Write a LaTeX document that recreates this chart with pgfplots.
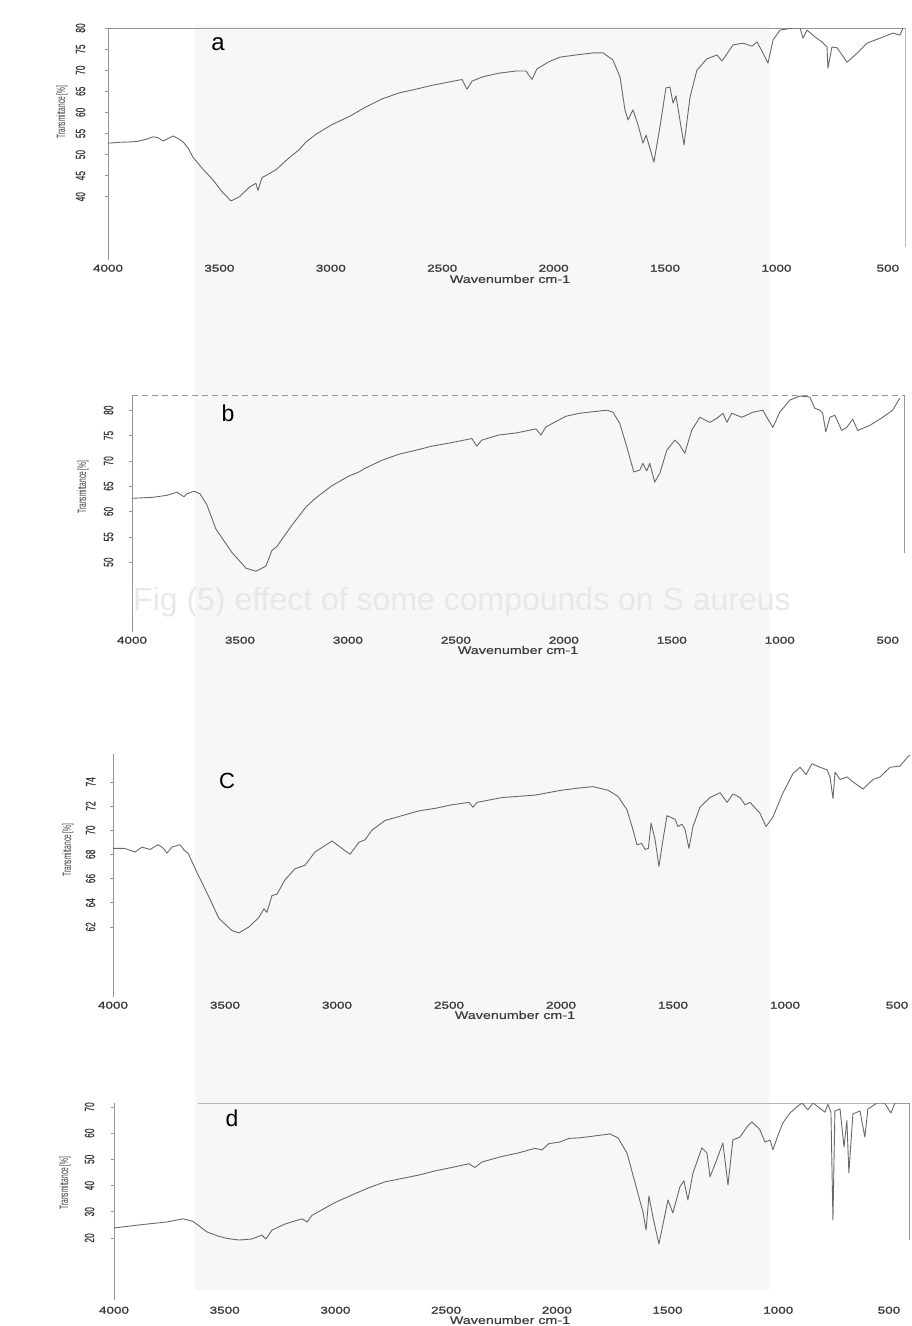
\documentclass[border=0pt]{standalone}
\usepackage{pgfplots}
\pgfplotsset{compat=1.18}
\usepackage{fontspec}
\setmainfont{Liberation Sans}
\newfontfamily\xtickfont[FakeStretch=1.35,FakeBold=1.6]{Liberation Sans}
\newfontfamily\ytickfont[FakeStretch=0.62,FakeBold=0.6]{Liberation Sans}
\newfontfamily\ylabfont[FakeStretch=0.55]{Liberation Sans}
\newfontfamily\xlabfont[FakeStretch=1.3,FakeBold=0.5]{Liberation Sans}
\definecolor{linegray}{RGB}{105,105,105}
\definecolor{axgray}{RGB}{150,150,150}
\definecolor{txtgray}{RGB}{60,60,60}
\pgfplotsset{
  spec/.style={linegray, line width=0.9pt, line join=round, mark=none},
  irax/.style={
    scale only axis, x dir=reverse,
    axis y line*=left, axis x line*=bottom,
    x axis line style={draw=none},
    y axis line style={draw=axgray, line width=0.7pt, -},
    xtick={4000,3500,3000,2500,2000,1500,1000,500},
    x tick style={draw=none},
    y tick style={draw=axgray, line width=0.6pt},
    major tick length=3pt, tick align=outside,
    /pgf/number format/assume math mode=true,
    /pgf/number format/1000 sep={},
    xticklabel style={font=\xtickfont\fontsize{10}{10}\selectfont, text=txtgray, inner sep=0pt, anchor=north},
    yticklabel style={font=\ytickfont\fontsize{13.5}{13.5}\selectfont, text=txtgray, rotate=90, anchor=south, inner sep=0pt},
  }
}
\begin{document}
\begin{tikzpicture}[x=1pt,y=1pt]
\useasboundingbox (0pt,0pt) rectangle (912pt,-1326pt);
\fill[black!3] (195pt,-25pt) rectangle (770pt,-1290pt);
\node[text=black!9, font=\fontsize{32}{32}\selectfont] at (462pt,-602pt) {Fig (5) effect of some compounds on S aureus};

% ---------- a ----------
\begin{axis}[irax, at={(108pt,-260pt)}, anchor=south west,
  width=797.7pt, height=232pt, xmin=420, xmax=4000, ymin=25, ymax=80,
  ytick={40,45,50,55,60,65,70,75,80}, xticklabel shift=1.5pt, yticklabel shift=19.5pt]
\draw[axgray, line width=0.6pt] (rel axis cs:0,1) -- (rel axis cs:1,1);
\addplot[axgray, line width=0.7pt] coordinates {(421,80) (421,28.1)};
\addplot[spec] coordinates {
(4000,52.7) (3950,52.9) (3900,53.0) (3870,53.1) (3830,53.6) (3798,54.2) (3775,54.0)
(3753,53.2) (3730,53.8) (3708,54.4) (3685,53.8) (3663,53.0) (3640,51.5) (3619,49.4)
(3575,46.6) (3529,44.0) (3490,41.3) (3448,39.0) (3410,40.0) (3367,42.2) (3336,43.2)
(3327,41.5) (3309,44.5) (3246,46.4) (3188,49.2) (3143,51.1) (3111,53.0) (3067,54.8)
(2995,57.1) (2918,59.0) (2842,61.3) (2770,63.2) (2694,64.6) (2618,65.5) (2546,66.4)
(2470,67.2) (2411,67.8) (2389,65.5) (2366,67.4) (2321,68.4) (2245,69.3) (2169,69.8)
(2124,69.8) (2097,67.8) (2075,70.3) (2021,72.0) (1971,73.1) (1900,73.6) (1823,74.1)
(1778,74.1) (1734,72.4) (1702,68.4) (1680,60.6) (1666,58.2) (1644,60.6) (1621,57.0)
(1599,52.7) (1585,54.6) (1550,48.2) (1523,56.5) (1496,65.8) (1478,66.0) (1464,62.2)
(1451,63.9) (1415,52.3) (1388,63.6) (1357,70.0) (1312,72.7) (1267,73.6) (1244,72.2)
(1195,76.0) (1150,76.4) (1110,75.7) (1087,76.7) (1060,74.0) (1038,71.7) (1015,77.2)
(984,79.5) (926,80.0) (894,80.0) (881,77.6) (863,79.5) (827,77.9) (796,76.7)
(773,75.5) (769,70.5) (751,75.5) (728,75.3) (683,71.9) (639,74.0) (594,76.4)
(535,77.6) (477,78.8) (446,78.3) (432,80.0)
};
\end{axis}

% ---------- b ----------
\begin{axis}[irax, at={(132pt,-632pt)}, anchor=south west,
  width=773pt, height=237pt, xmin=420, xmax=4000, ymin=36.2, ymax=83,
  ytick={50,55,60,65,70,75,80}, xticklabel shift=1.5pt, yticklabel shift=15.5pt]
\draw[axgray, line width=0.6pt, dash pattern=on 6pt off 4pt] (rel axis cs:0,1) -- (rel axis cs:1,1);
\addplot[axgray, line width=0.7pt] coordinates {(421,83) (421,51.8)};
\addplot[spec] coordinates {
(4000,62.6) (3903,62.8) (3838,63.2) (3792,63.8) (3759,62.9) (3745,63.5) (3713,64.0)
(3685,63.5) (3653,61.3) (3611,56.5) (3537,51.9) (3472,48.8) (3426,48.2) (3380,49.2)
(3352,52.3) (3329,53.1) (3259,57.3) (3194,60.9) (3148,62.7) (3074,65.1) (2995,67.0)
(2949,67.8) (2917,68.6) (2843,70.1) (2764,71.3) (2685,72.1) (2611,72.9) (2532,73.5)
(2426,74.4) (2403,72.9) (2380,74.1) (2301,75.1) (2222,75.5) (2129,76.3) (2106,75.1)
(2083,76.7) (1991,78.8) (1926,79.4) (1801,80.0) (1773,79.6) (1741,77.4) (1708,72.7)
(1676,67.8) (1648,68.2) (1634,69.5) (1616,68.0) (1602,69.5) (1579,65.8) (1555,67.6)
(1523,72.1) (1486,74.1) (1463,73.1) (1440,71.5) (1407,76.1) (1370,78.6) (1324,77.6)
(1291,78.4) (1263,79.4) (1245,77.6) (1222,79.4) (1176,78.6) (1125,79.6) (1078,80.0)
(1060,78.6) (1032,76.6) (1000,79.6) (953,82.0) (907,82.8) (861,82.6) (838,80.4)
(815,80.0) (801,79.4) (787,75.7) (768,78.6) (745,79.0) (713,76.0) (690,76.6)
(662,78.2) (639,76.0) (583,77.0) (523,78.6) (477,80.0) (444,82.4)
};
\end{axis}

% ---------- c ----------
\begin{axis}[irax, at={(113pt,-997pt)}, anchor=south west,
  width=797.5pt, height=243pt, xmin=440, xmax=4000, ymin=56.2, ymax=76.3,
  ytick={62,64,66,68,70,72,74}, xticklabel shift=1.5pt, yticklabel shift=14.5pt]
\addplot[spec] coordinates {
(4000,68.5) (3950,68.5) (3902,68.2) (3870,68.6) (3835,68.4) (3799,68.8) (3775,68.5)
(3759,68.1) (3737,68.6) (3701,68.8) (3680,68.3) (3665,68.1) (3625,66.5) (3580,64.8)
(3527,62.7) (3469,61.7) (3438,61.5) (3393,62.0) (3348,62.8) (3326,63.5) (3313,63.2)
(3290,64.6) (3268,64.7) (3232,65.9) (3188,66.8) (3143,67.1) (3098,68.2) (3022,69.1)
(3000,68.8) (2942,68.0) (2902,69.0) (2875,69.2) (2844,70.0) (2786,70.8) (2710,71.2)
(2634,71.6) (2563,71.8) (2487,72.1) (2411,72.3) (2393,71.9) (2375,72.3) (2263,72.7)
(2116,72.9) (2000,73.3) (1915,73.5) (1857,73.6) (1790,73.3) (1746,72.8) (1706,71.7)
(1683,70.3) (1661,68.8) (1640,68.9) (1625,68.4) (1610,68.5) (1598,70.6) (1580,69.2)
(1563,67.0) (1545,69.2) (1527,71.2) (1491,70.9) (1478,70.3) (1460,70.5) (1447,70.1)
(1429,68.5) (1411,70.3) (1380,71.9) (1335,72.7) (1290,73.1) (1259,72.3) (1232,73.0)
(1201,72.7) (1179,72.1) (1156,72.3) (1112,71.4) (1085,70.3) (1054,71.1) (1009,73.1)
(964,74.7) (933,75.2) (906,74.6) (880,75.5) (844,75.2) (813,75.0) (799,74.4)
(786,72.6) (777,74.8) (755,74.2) (723,74.4) (697,74.0) (652,73.4) (607,74.2)
(576,74.4) (532,75.2) (487,75.3) (473,75.6) (451,76.1) (441,76.2)
};
\end{axis}

% ---------- d ----------
\begin{axis}[irax, at={(114pt,-1300pt)}, anchor=south west,
  width=796pt, height=197pt, xmin=405, xmax=4000, ymin=-3.7, ymax=71.5,
  ytick={20,30,40,50,60,70}, xticklabel shift=3.5pt, yticklabel shift=16.5pt]
\draw[axgray!70, line width=0.6pt] (axis cs:3620,71.5) -- (rel axis cs:1,1);
\addplot[axgray, line width=0.7pt] coordinates {(406,71.5) (406,19.2)};
\addplot[spec] coordinates {
(4000,23.8) (3883,25.0) (3761,26.1) (3688,27.3) (3643,26.3) (3580,22.3) (3526,20.6)
(3490,19.8) (3435,19.2) (3377,19.6) (3332,21.1) (3314,19.6) (3286,23.0) (3228,25.3)
(3151,27.3) (3128,26.1) (3106,28.6) (3002,33.5) (2925,36.4) (2848,39.2) (2776,41.4)
(2699,42.7) (2623,44.0) (2550,45.6) (2474,46.9) (2397,48.3) (2370,46.9) (2338,49.0)
(2248,51.1) (2171,52.5) (2099,54.2) (2067,53.6) (2036,56.0) (1986,56.6) (1945,58.0)
(1896,58.2) (1760,59.7) (1724,58.2) (1683,52.4) (1638,38.3) (1611,29.9) (1597,23.0)
(1584,36.0) (1566,28.0) (1539,17.7) (1521,25.0) (1498,34.5) (1476,29.5) (1444,39.5)
(1426,41.8) (1408,34.5) (1385,44.8) (1345,54.4) (1322,52.4) (1308,43.3) (1277,50.0)
(1250,56.3) (1227,40.2) (1205,57.4) (1173,58.5) (1141,62.4) (1119,64.3) (1096,62.4)
(1083,61.3) (1060,56.6) (1037,57.4) (1024,53.6) (1001,59.3) (979,63.9) (947,67.7)
(916,70.0) (893,71.5) (866,68.9) (843,71.5) (789,68.0) (776,71.0) (762,68.0)
(753,26.9) (744,68.5) (721,69.2) (703,54.7) (690,64.8) (681,44.8) (663,67.3)
(631,68.5) (609,58.5) (595,69.2) (554,71.5) (520,71.5) (491,67.7) (473,71.5) (406,71.5)
};
\end{axis}

% ---------- labels ----------
\begin{scope}[every node/.style={text=txtgray}]
\node[font=\xlabfont\fontsize{11}{11}\selectfont] at (510pt,-279pt) {Wavenumber cm-1};
\node[font=\xlabfont\fontsize{11}{11}\selectfont] at (518pt,-650pt) {Wavenumber cm-1};
\node[font=\xlabfont\fontsize{11}{11}\selectfont] at (515pt,-1015pt) {Wavenumber cm-1};
\node[font=\xlabfont\fontsize{11}{11}\selectfont] at (510pt,-1320pt) {Wavenumber cm-1};
\node[font=\ylabfont\fontsize{12}{12}\selectfont, rotate=90] at (62pt,-112pt) {Transmittance [\%]};
\node[font=\ylabfont\fontsize{12}{12}\selectfont, rotate=90] at (83pt,-487pt) {Transmittance [\%]};
\node[font=\ylabfont\fontsize{12}{12}\selectfont, rotate=90] at (68pt,-850pt) {Transmittance [\%]};
\node[font=\ylabfont\fontsize{12}{12}\selectfont, rotate=90] at (65pt,-1183pt) {Transmittance [\%]};
\end{scope}
\node[text=black, font=\fontsize{24}{24}\selectfont] at (218pt,-44pt) {a};
\node[text=black, font=\fontsize{23}{23}\selectfont] at (228pt,-413pt) {b};
\node[text=black, font=\fontsize{22}{22}\selectfont] at (227pt,-781pt) {C};
\node[text=black, font=\fontsize{23}{23}\selectfont] at (232pt,-1118pt) {d};
\end{tikzpicture}
\end{document}
